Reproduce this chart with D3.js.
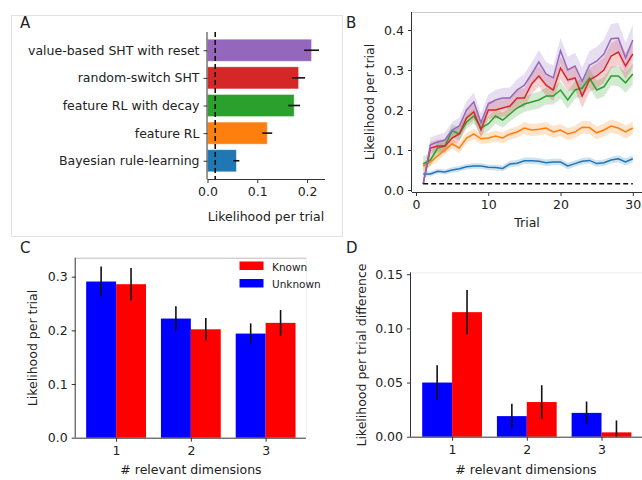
<!DOCTYPE html>
<html><head><meta charset="utf-8">
<script src="https://cdn.jsdelivr.net/npm/d3@7"></script>
<style>
body{margin:0;background:#fff;}
svg{display:block;font-family:"DejaVu Sans",sans-serif;}
.tick text{font-size:12.5px;fill:#222;}
.tick line{stroke:#333;}
.domain{stroke:#333;}
</style></head>
<body><svg id="c" width="642" height="480"></svg>
<script>
// ---------- Panel A data ----------
const modelNames = ["Bayesian rule-learning","feature RL","feature RL with decay","random-switch SHT","value-based SHT with reset"];
const modelLik = [0.058, 0.120, 0.174, 0.183, 0.209];
const modelErr = [0.006, 0.010, 0.012, 0.013, 0.015];
const modelColors = ["#1f77b4","#ff7f0e","#2ca02c","#d62728","#9467bd"];
const chanceLevel = 0.0155;
const aTicks = [0.0, 0.1, 0.2];

// ---------- Panel B data ----------
const trials = d3.range(1, 31);
const lineBayes = [0.040,0.040,0.047,0.045,0.050,0.053,0.058,0.060,0.060,0.057,0.056,0.054,0.065,0.067,0.073,0.073,0.072,0.068,0.070,0.070,0.060,0.066,0.072,0.074,0.066,0.068,0.075,0.078,0.070,0.078];
const lineFRL   = [0.060,0.070,0.085,0.100,0.115,0.105,0.130,0.140,0.128,0.130,0.135,0.130,0.140,0.145,0.155,0.150,0.152,0.155,0.145,0.150,0.140,0.145,0.157,0.156,0.143,0.150,0.160,0.155,0.145,0.155];
const lineFRLd  = [0.065,0.075,0.105,0.110,0.148,0.140,0.170,0.185,0.155,0.165,0.185,0.175,0.190,0.205,0.215,0.220,0.225,0.235,0.235,0.250,0.225,0.250,0.255,0.280,0.250,0.258,0.285,0.285,0.268,0.290];
const lineRS    = [0.015,0.105,0.110,0.110,0.130,0.140,0.180,0.195,0.150,0.200,0.200,0.205,0.210,0.230,0.230,0.265,0.285,0.262,0.250,0.305,0.275,0.280,0.235,0.275,0.285,0.300,0.335,0.345,0.310,0.340];
const lineVB    = [0.015,0.113,0.120,0.125,0.150,0.160,0.200,0.220,0.168,0.215,0.225,0.230,0.230,0.250,0.262,0.290,0.320,0.290,0.280,0.348,0.300,0.310,0.272,0.312,0.322,0.340,0.378,0.380,0.330,0.375];
const bandBayes = [0.006,0.006,0.006,0.006,0.007,0.007,0.007,0.007,0.007,0.007,0.007,0.007,0.008,0.008,0.008,0.008,0.008,0.008,0.008,0.008,0.008,0.008,0.008,0.008,0.008,0.008,0.008,0.009,0.009,0.009];
const bandFRL   = [0.010,0.010,0.012,0.012,0.012,0.013,0.013,0.013,0.013,0.013,0.014,0.014,0.014,0.014,0.015,0.015,0.015,0.015,0.015,0.015,0.015,0.015,0.016,0.016,0.016,0.016,0.016,0.016,0.016,0.016];
const bandFRLd  = [0.020,0.015,0.016,0.016,0.016,0.017,0.017,0.018,0.018,0.018,0.019,0.019,0.019,0.020,0.020,0.020,0.021,0.021,0.021,0.022,0.022,0.022,0.022,0.023,0.023,0.024,0.024,0.025,0.025,0.026];
const bandRS    = [0.002,0.015,0.016,0.016,0.017,0.018,0.019,0.020,0.020,0.021,0.022,0.022,0.023,0.024,0.024,0.025,0.026,0.026,0.027,0.028,0.028,0.029,0.030,0.030,0.031,0.032,0.032,0.033,0.033,0.034];
const bandVB    = [0.002,0.018,0.018,0.019,0.020,0.021,0.022,0.023,0.023,0.024,0.025,0.025,0.026,0.027,0.028,0.029,0.030,0.030,0.031,0.032,0.033,0.033,0.034,0.035,0.036,0.036,0.037,0.038,0.038,0.039];
const bTicksY = [0.0,0.1,0.2,0.3,0.4];
const bTicksX = [0,10,20,30];

// ---------- Panel C / D data ----------
const dims = [1, 2, 3];
const condNames = ["Known","Unknown"];
const condColors = {"Known":"#ff0000","Unknown":"#0000ff"};
const cUnknown = [0.291, 0.222, 0.194];
const cUnknownErr = [0.028, 0.023, 0.019];
const cKnown = [0.286, 0.202, 0.214];
const cKnownErr = [0.030, 0.021, 0.024];
const dUnknown = [0.050, 0.019, 0.022];
const dUnknownErr = [0.016, 0.0115, 0.0105];
const dKnown = [0.115, 0.032, 0.004];
const dKnownErr = [0.0205, 0.0155, 0.011];
const cTicksY = [0.0,0.1,0.2,0.3];
const dTicksY = [0.00,0.05,0.10,0.15];

const svg = d3.select("#c");
svg.append("rect").attr("width",642).attr("height",480).attr("fill","#fff");

function styleAxis(g){
  g.selectAll(".domain").attr("stroke","#333").attr("stroke-width",1);
  g.selectAll(".tick line").attr("stroke","#333");
  g.selectAll(".tick text").attr("fill","#222").style("font-size","12.5px").style("font-family","DejaVu Sans");
}
function label(txt,x,y,opts={}){
  const t = svg.append("text").attr("x",x).attr("y",y).text(txt)
    .attr("fill","#222").style("font-size",(opts.size||12.5)+"px")
    .attr("text-anchor",opts.anchor||"middle");
  if(opts.rotate) t.attr("transform",`rotate(-90,${x},${y})`);
  return t;
}

// ================= Panel A =================
svg.append("rect").attr("x",11.5).attr("y",15.5).attr("width",331).attr("height",221)
  .attr("fill","none").attr("stroke","#e2e2e2");
label("A",20,28,{size:15,anchor:"start"});
{
  const x = d3.scaleLinear().domain([0,0.236]).range([207.5,325]);
  const y = d3.scaleLinear().domain([-0.66,4.66]).range([179,32]);
  const g = svg.append("g");
  const bh = y(0)-y(0.8);
  g.selectAll("rect.bar").data(modelNames).join("rect")
    .attr("x",x(0)).attr("y",(d,i)=>y(i)-bh/2)
    .attr("width",(d,i)=>x(modelLik[i])-x(0)).attr("height",bh)
    .attr("fill",(d,i)=>modelColors[i]).attr("stroke","#fff").attr("stroke-opacity",0.5).attr("stroke-width",0.8);
  g.selectAll("line.err").data(modelNames).join("line")
    .attr("x1",(d,i)=>x(modelLik[i]-modelErr[i])).attr("x2",(d,i)=>x(modelLik[i]+modelErr[i]))
    .attr("y1",(d,i)=>y(i)).attr("y2",(d,i)=>y(i))
    .attr("stroke","#111").attr("stroke-width",1.6);
  g.append("line").attr("x1",x(chanceLevel)).attr("x2",x(chanceLevel)).attr("y1",32).attr("y2",179)
    .attr("stroke","#111").attr("stroke-width",1.6).attr("stroke-dasharray","5,3");
  const ax = g.append("g").attr("transform","translate(0,179)")
    .call(d3.axisBottom(x).tickValues(aTicks).tickFormat(d3.format(".1f")).tickSize(4).tickPadding(4));
  ax.select(".domain").attr("d",`M${x(0)},0.5H325`);
  styleAxis(ax);
  const ay = g.append("g").attr("transform",`translate(${x(0)},0)`)
    .call(d3.axisLeft(y).tickValues(d3.range(5)).tickFormat(i=>modelNames[i]).tickSize(4).tickPadding(4));
  ay.select(".domain").attr("d","M-0.5,32V179");
  styleAxis(ay);
  label("Likelihood per trial",266,221);
}

// ================= Panel B =================
label("B",346,28,{size:15,anchor:"start"});
{
  const x = d3.scaleLinear().domain([-0.55,31.55]).range([412,644]);
  const y = d3.scaleLinear().domain([-0.005,0.445]).range([192,12]);
  const g = svg.append("g");
  g.append("line").attr("x1",412).attr("x2",642).attr("y1",12.5).attr("y2",12.5).attr("stroke","#ccc");
  const series = [
    {v:lineBayes,b:bandBayes,c:modelColors[0]},
    {v:lineFRL,b:bandFRL,c:modelColors[1]},
    {v:lineFRLd,b:bandFRLd,c:modelColors[2]},
    {v:lineRS,b:bandRS,c:modelColors[3]},
    {v:lineVB,b:bandVB,c:modelColors[4]}
  ];
  const area = d3.area().x((d,i)=>x(trials[i]));
  const line = d3.line().x((d,i)=>x(trials[i])).y(d=>y(d));
  series.forEach(s=>{
    g.append("path").datum(s.v)
      .attr("d",area.y0((d,i)=>y(d-s.b[i])).y1((d,i)=>y(d+s.b[i])))
      .attr("fill",s.c).attr("fill-opacity",0.22).attr("stroke","none");
  });
  series.forEach(s=>{
    g.append("path").datum(s.v).attr("d",line).attr("fill","none")
      .attr("stroke",s.c).attr("stroke-width",1.5);
  });
  g.append("line").attr("x1",x(1)).attr("x2",x(30)).attr("y1",y(chanceLevel)).attr("y2",y(chanceLevel))
    .attr("stroke","#111").attr("stroke-width",1.6).attr("stroke-dasharray","5,3");
  const ax = g.append("g").attr("transform","translate(0,192)")
    .call(d3.axisBottom(x).tickValues(bTicksX).tickFormat(d3.format("d")).tickSize(4).tickPadding(4));
  ax.select(".domain").attr("d","M412,0.5H642");
  styleAxis(ax);
  const ay = g.append("g").attr("transform","translate(412,0)")
    .call(d3.axisLeft(y).tickValues(bTicksY).tickFormat(d3.format(".1f")).tickSize(4).tickPadding(4));
  ay.select(".domain").attr("d","M-0.5,12V192");
  styleAxis(ay);
  label("Trial",527,227);
  label("Likelihood per trial",374,102,{rotate:true});
}

// ================= Panel C & D =================
function groupedPanel(opt){
  const x = d3.scaleLinear().domain(opt.xdom).range(opt.xr);
  const y = d3.scaleLinear().domain(opt.ydom).range(opt.yr);
  const g = svg.append("g");
  const top = opt.yr[1], bot = opt.yr[0];
  g.append("line").attr("x1",opt.xr[0]).attr("x2",opt.xr[1]).attr("y1",top+0.5).attr("y2",top+0.5).attr("stroke",opt.topColor);
  if(opt.rightSpine) g.append("line").attr("x1",opt.xr[1]+0.5).attr("x2",opt.xr[1]+0.5).attr("y1",top).attr("y2",bot).attr("stroke","#f0f0f0");
  const groups = [
    {vals:opt.unk,err:opt.unkErr,color:condColors["Unknown"],off:-0.4},
    {vals:opt.kn,err:opt.knErr,color:condColors["Known"],off:0}
  ];
  groups.forEach(gr=>{
    g.selectAll(null).data(dims).join("rect")
      .attr("x",(d)=>x(d+gr.off)).attr("width",x(0.4)-x(0))
      .attr("y",(d,i)=>y(gr.vals[i])).attr("height",(d,i)=>y(0)-y(gr.vals[i]))
      .attr("fill",gr.color);
  });
  groups.forEach(gr=>{
    g.selectAll(null).data(dims).join("line")
      .attr("x1",d=>x(d+gr.off+0.2)).attr("x2",d=>x(d+gr.off+0.2))
      .attr("y1",(d,i)=>y(Math.max(opt.ydom[0],gr.vals[i]-gr.err[i]))).attr("y2",(d,i)=>y(gr.vals[i]+gr.err[i]))
      .attr("stroke","#111").attr("stroke-width",1.6);
  });
  const ax = g.append("g").attr("transform",`translate(0,${bot})`)
    .call(d3.axisBottom(x).tickValues(dims).tickFormat(d3.format("d")).tickSize(4).tickPadding(4));
  ax.select(".domain").attr("d",`M${opt.xr[0]},0.5H${opt.xr[1]}`);
  styleAxis(ax);
  const ay = g.append("g").attr("transform",`translate(${opt.xr[0]},0)`)
    .call(d3.axisLeft(y).tickValues(opt.yticks).tickFormat(d3.format(opt.fmt)).tickSize(4).tickPadding(4));
  ay.select(".domain").attr("d",`M-0.5,${top}V${bot}`);
  styleAxis(ay);
  return {x,y,g};
}

label("C",20,253,{size:15,anchor:"start"});
{
  groupedPanel({xdom:[0.46,3.54],xr:[75.7,306],ydom:[0,0.3354],yr:[437.7,257.7],
    unk:cUnknown,unkErr:cUnknownErr,kn:cKnown,knErr:cKnownErr,yticks:cTicksY,fmt:".1f",topColor:"#bbb",rightSpine:true});
  // legend
  condNames.forEach((n,i)=>{
    svg.append("rect").attr("x",239.5).attr("y",261.5+i*17.5).attr("width",24).attr("height",8.5).attr("fill",condColors[n]);
    label(n,272,270.5+i*17.5,{size:10.5,anchor:"start"});
  });
  label("# relevant dimensions",191,474);
  label("Likelihood per trial",37,348,{rotate:true});
}

label("D",346,253,{size:15,anchor:"start"});
{
  groupedPanel({xdom:[0.45,3.55],xr:[411,642.6],ydom:[0,0.1518],yr:[436.7,272.3],
    unk:dUnknown,unkErr:dUnknownErr,kn:dKnown,knErr:dKnownErr,yticks:dTicksY,fmt:".2f",topColor:"#eee",rightSpine:false});
  label("# relevant dimensions",526,474);
  label("Likelihood per trial difference",366,355,{rotate:true});
}
</script></body></html>
